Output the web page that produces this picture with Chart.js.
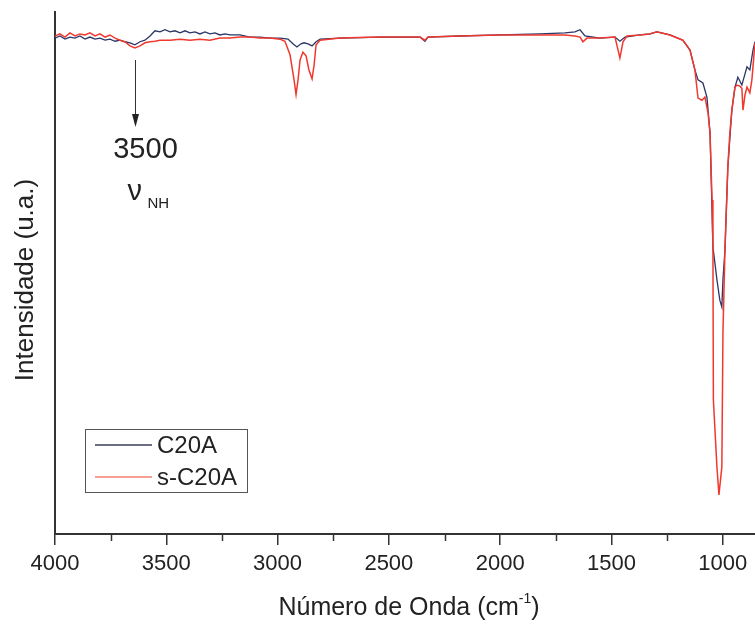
<!DOCTYPE html>
<html>
<head>
<meta charset="utf-8">
<script src="https://cdn.jsdelivr.net/npm/chart.js@4/dist/chart.umd.min.js"></script>
<style>
  body { margin: 0; background: #fff; }
  canvas { display: block; }
</style>
</head>
<body>
<canvas id="ftir" width="755" height="624"></canvas>
<script>
// wavenumbers (cm-1) and intensity (a.u.)
const c20aWave = [4000, 3978, 3955, 3933, 3910, 3888, 3865, 3843, 3820, 3798, 3775, 3753, 3730, 3708, 3686, 3663,
  3641, 3618, 3596, 3573, 3551, 3528, 3506, 3483, 3461, 3438, 3416, 3394, 3371, 3349, 3326, 3304, 3281, 3259,
  3236, 3214, 3169, 3124, 3079, 3034, 2989, 2953, 2931, 2913, 2895, 2881, 2863, 2845, 2827, 2809, 2720, 2540,
  2360, 2338, 2324, 2181, 2001, 1821, 1709, 1664, 1641, 1619, 1552, 1484, 1462, 1439, 1372, 1327, 1296, 1237,
  1179, 1147, 1125, 1111, 1089, 1071, 1057, 1044, 1026, 1013, 1004, 999, 990, 977, 959, 945, 932, 914, 891,
  878, 864, 855];
const c20aValue = [95.0, 95.4, 94.8, 95.2, 95.0, 95.4, 94.8, 95.2, 94.8, 95.0, 94.6, 94.8, 94.4, 94.6, 94.3, 94.1,
  93.7, 94.3, 94.6, 95.4, 96.4, 96.2, 96.6, 96.2, 96.4, 96.0, 96.4, 96.0, 96.2, 95.8, 96.2, 95.8, 96.0, 95.6,
  95.8, 95.6, 95.6, 95.2, 95.2, 95.0, 95.0, 94.8, 93.9, 93.3, 93.9, 94.1, 93.9, 93.5, 94.3, 94.8, 95.0, 95.2,
  95.2, 94.4, 95.2, 95.4, 95.6, 95.8, 96.0, 96.2, 96.6, 95.4, 95.0, 95.2, 94.4, 95.2, 95.6, 95.8, 96.2, 95.6,
  94.6, 92.7, 88.9, 87.0, 86.4, 83.7, 76.8, 55.0, 48.7, 44.8, 43.5, 48.7, 54.4, 70.3, 81.2, 85.6, 87.5, 86.0, 89.5,
  88.9, 92.7, 94.3];

const sC20aWave = [4000, 3978, 3955, 3933, 3910, 3888, 3865, 3843, 3820, 3798, 3775, 3753, 3730, 3708, 3686, 3663,
  3641, 3618, 3596, 3573, 3551, 3528, 3483, 3438, 3394, 3349, 3304, 3259, 3214, 3169, 3124, 3079, 3034, 2989,
  2967, 2944, 2926, 2917, 2908, 2899, 2886, 2872, 2859, 2845, 2836, 2827, 2809, 2720, 2540, 2360, 2338, 2324,
  2181, 2001, 1821, 1709, 1664, 1641, 1628, 1610, 1552, 1484, 1462, 1448, 1430, 1372, 1327, 1296, 1237, 1179,
  1147, 1125, 1111, 1093, 1080, 1066, 1057, 1048, 1044, 1042, 1026, 1017, 1004, 999, 990, 977, 968, 959, 945,
  936, 923, 914, 909, 900, 891, 878, 869, 855];
const sC20aValue = [95.4, 95.8, 95.2, 96.0, 95.4, 95.8, 95.6, 96.0, 95.4, 95.8, 95.2, 95.6, 95.0, 94.6, 94.3, 93.5,
  93.1, 93.5, 94.1, 94.3, 94.4, 94.6, 94.6, 94.8, 94.6, 94.8, 94.6, 95.0, 95.0, 95.2, 95.2, 95.0, 95.0, 94.8,
  94.4, 91.8, 87.0, 84.2, 87.0, 90.8, 92.3, 91.6, 88.9, 87.2, 89.8, 93.7, 94.6, 95.0, 95.2, 95.2, 94.6, 95.2,
  95.4, 95.6, 95.6, 95.6, 95.4, 95.2, 94.3, 95.0, 95.0, 95.2, 91.2, 94.3, 95.4, 95.6, 95.8, 96.2, 95.6, 94.6,
  92.7, 88.9, 83.5, 83.1, 83.7, 80.7, 76.8, 64.0, 55.0, 25.7, 12.8, 7.5, 12.8, 38.5, 54.4, 70.3, 76.8, 81.2, 85.6,
  86.0, 85.8, 85.4, 81.2, 84.1, 85.6, 84.5, 87.0, 94.1];

const seriesNames = ["C20A", "s-C20A"];
const xTitle = "Número de Onda (cm";
const yTitle = "Intensidade (u.a.)";

const fontFamily = "'Liberation Sans', Arial, sans-serif";
const axisColor = "#333333";
const textColor = "#222222";

function toPoints(waves, values) {
  return waves.map((w, i) => ({ x: w, y: values[i] }));
}

const extrasPlugin = {
  id: "extras",
  afterDraw(chart) {
    const ctx = chart.ctx;
    const xs = chart.scales.x;
    const area = chart.chartArea;
    ctx.save();

    // minor ticks (every 250 between the labelled ones)
    ctx.strokeStyle = axisColor;
    ctx.lineWidth = 1.5;
    xs.ticks.forEach((t) => {
      if (t.value % 500 !== 0) {
        const px = Math.round(xs.getPixelForValue(t.value)) + 0.5;
        ctx.beginPath();
        ctx.moveTo(px, area.bottom);
        ctx.lineTo(px, area.bottom + 7);
        ctx.stroke();
      }
    });

    // x title with superscript
    ctx.fillStyle = textColor;
    ctx.textBaseline = "alphabetic";
    ctx.font = "25px " + fontFamily;
    const w1 = ctx.measureText(xTitle).width;
    ctx.font = "14px " + fontFamily;
    const w2 = ctx.measureText("-1").width;
    ctx.font = "25px " + fontFamily;
    const w3 = ctx.measureText(")").width;
    let tx = 409 - (w1 + w2 + w3) / 2;
    ctx.fillText(xTitle, tx, 615);
    ctx.font = "14px " + fontFamily;
    ctx.fillText("-1", tx + w1, 603);
    ctx.font = "25px " + fontFamily;
    ctx.fillText(")", tx + w1 + w2, 615);

    // y title
    ctx.save();
    ctx.translate(26, 280);
    ctx.rotate(-Math.PI / 2);
    ctx.textAlign = "center";
    ctx.textBaseline = "middle";
    ctx.font = "26px " + fontFamily;
    ctx.fillText(yTitle, 0, 0);
    ctx.restore();

    // annotation arrow at the N-H band
    const ax = Math.round(xs.getPixelForValue(3641)) + 0.5;
    ctx.strokeStyle = "#333";
    ctx.lineWidth = 1;
    ctx.beginPath();
    ctx.moveTo(ax, 60);
    ctx.lineTo(ax, 118);
    ctx.stroke();
    ctx.fillStyle = "#222";
    ctx.beginPath();
    ctx.moveTo(ax - 3.5, 114);
    ctx.lineTo(ax + 3.5, 114);
    ctx.lineTo(ax, 127);
    ctx.closePath();
    ctx.fill();

    ctx.fillStyle = textColor;
    ctx.textAlign = "center";
    ctx.textBaseline = "alphabetic";
    ctx.font = "29px " + fontFamily;
    ctx.fillText("3500", ax + 10, 158);
    ctx.textAlign = "left";
    ctx.font = "29px " + fontFamily;
    ctx.fillText("ν", ax - 8, 200);
    ctx.font = "15px " + fontFamily;
    ctx.fillText("NH", ax + 12, 208);

    // legend box
    ctx.strokeStyle = "#555";
    ctx.lineWidth = 1;
    ctx.strokeRect(85.5, 429.5, 162, 63);
    chart.data.datasets.forEach((ds, i) => {
      const ly = 445 + i * 32;
      ctx.strokeStyle = ds.legendColor;
      ctx.lineWidth = 1.5;
      ctx.beginPath();
      ctx.moveTo(95, ly);
      ctx.lineTo(152, ly);
      ctx.stroke();
      ctx.fillStyle = textColor;
      ctx.textBaseline = "middle";
      ctx.font = "24px " + fontFamily;
      ctx.fillText(ds.label, 157, ly + 1);
    });

    ctx.restore();
  }
};

new Chart(document.getElementById("ftir"), {
  type: "line",
  data: {
    datasets: [
      {
        label: seriesNames[0],
        data: toPoints(c20aWave, c20aValue),
        borderColor: "#2b3566",
        legendColor: "#3a3f5c",
        borderWidth: 1.3,
        pointRadius: 0,
        tension: 0,
        order: 1
      },
      {
        label: seriesNames[1],
        data: toPoints(sC20aWave, sC20aValue),
        borderColor: "#f0392e",
        legendColor: "#f2806e",
        borderWidth: 1.5,
        pointRadius: 0,
        tension: 0,
        order: 0
      }
    ]
  },
  options: {
    responsive: false,
    animation: false,
    layout: { padding: { top: 12, left: 0, right: 0, bottom: 0 } },
    plugins: {
      legend: { display: false },
      tooltip: { enabled: false }
    },
    scales: {
      x: {
        type: "linear",
        min: 855,
        max: 4000,
        reverse: true,
        afterFit: (scale) => { scale.height = 90; },
        ticks: {
          stepSize: 250,
          includeBounds: false,
          autoSkip: false,
          maxRotation: 0,
          padding: 6,
          color: textColor,
          font: { family: fontFamily, size: 22 },
          callback: (v) => (v % 500 === 0 ? String(v) : "")
        },
        grid: {
          drawOnChartArea: false,
          tickLength: 11,
          lineWidth: 1.5,
          color: (c) => (c.tick && c.tick.value % 500 === 0 ? axisColor : "rgba(0,0,0,0)")
        },
        border: { display: true, color: axisColor, width: 2 }
      },
      y: {
        min: 0,
        max: 100,
        afterFit: (scale) => { scale.width = 55; },
        ticks: { display: false },
        grid: { display: false },
        border: { display: true, color: axisColor, width: 2 }
      }
    }
  },
  plugins: [extrasPlugin]
});
</script>
</body>
</html>
